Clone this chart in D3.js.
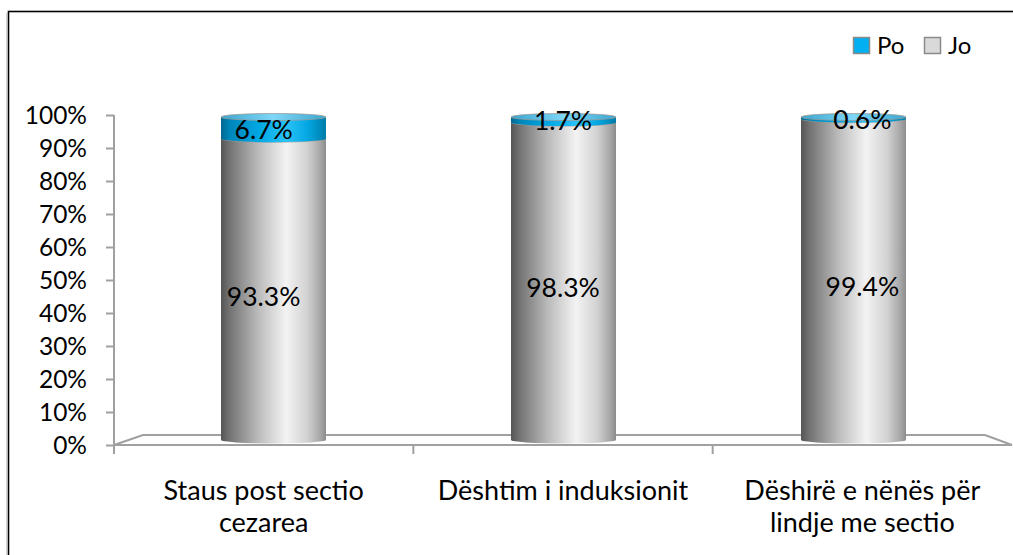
<!DOCTYPE html>
<html>
<head>
<meta charset="utf-8">
<script src="https://cdn.jsdelivr.net/npm/d3@7"></script>
<style>
  html, body { margin: 0; padding: 0; background: #fff; }
  svg { display: block; }
  text { font-family: Lato, "Open Sans", sans-serif; fill: #000; }
</style>
</head>
<body>
<svg id="chart" width="1013" height="555"></svg>
<script>
// Categories (each label split over lines), series shares and axis ticks
const categories = ["Staus post sectio cezarea", "Dështim i induksionit", "Dëshirë e nënës për lindje me sectio"];
const categoryLines = [["Staus post sectio", "cezarea"], ["Dështim i induksionit"], ["Dëshirë e nënës për", "lindje me sectio"]];
const seriesNames = ["Po", "Jo"];
const poValues = [6.7, 1.7, 0.6];
const joValues = [93.3, 98.3, 99.4];
const tickValues = [0, 10, 20, 30, 40, 50, 60, 70, 80, 90, 100];

const svg = d3.select("#chart");
const defs = svg.append("defs");

// Outer frame
svg.append("rect").attr("x", 8.5).attr("y", 11.5).attr("width", 1100).attr("height", 600)
  .attr("fill", "none").attr("stroke", "#000").attr("stroke-width", 1.6);
svg.append("line").attr("x1", 6.5).attr("x2", 6.5).attr("y1", 13).attr("y2", 555)
  .attr("stroke", "#d0d0d0").attr("stroke-width", 1);

// 3D floor projection: depth 0 = front edge, 1 = back edge
const front = { x0: 114, x1: 1012, y: 445 };
const back = { x0: 143, x1: 985, y: 435 };
const depth = 0.5;
const midX0 = front.x0 + (back.x0 - front.x0) * depth;
const midX1 = front.x1 + (back.x1 - front.x1) * depth;

const xFront = d3.scaleBand().domain(categories).range([front.x0, front.x1]).padding(0);
const xMid = d3.scaleBand().domain(categories).range([midX0, midX1]).padding(0);
const barWidth = xMid.bandwidth() * 0.362;

// value scales (percent): axis plane, bar plane, label plane
const yAxis = d3.scaleLinear().domain([0, 100]).range([445, 115]);
const yBar = d3.scaleLinear().domain([0, 100]).range([440, 117]);
const yLabel = d3.scaleLinear().domain([0, 100]).range([452, 118]);

const gridColor = "#a0a0a0";

// floor outline
svg.append("path")
  .attr("d", `M${front.x0},${front.y} L${back.x0},${back.y} L${back.x1},${back.y} L${front.x1},${front.y} Z`)
  .attr("fill", "none").attr("stroke", gridColor).attr("stroke-width", 2);

// value axis
const axisG = svg.append("g").attr("transform", `translate(${front.x0},0)`)
  .call(d3.axisLeft(yAxis).tickValues(tickValues).tickSize(8).tickPadding(19).tickFormat(d => d + "%"));
axisG.select(".domain").attr("d", `M0,${yAxis(100)}V${front.y + 9}`).attr("stroke", gridColor).attr("stroke-width", 2);
axisG.selectAll(".tick line").attr("stroke", gridColor).attr("stroke-width", 2);
axisG.selectAll(".tick text").attr("font-family", "Lato, sans-serif").attr("font-size", 24.5).attr("fill", "#000").attr("dy", "0.36em");

// category ticks along the front edge
svg.append("g").selectAll("line")
  .data(categories.slice(1))
  .join("line")
  .attr("x1", d => xFront(d)).attr("x2", d => xFront(d))
  .attr("y1", front.y).attr("y2", front.y + 9)
  .attr("stroke", gridColor).attr("stroke-width", 2);

// category labels
const catG = svg.append("g");
categories.forEach((c, i) => {
  const cx = xFront(c) + xFront.bandwidth() / 2;
  const t = catG.append("text")
    .attr("x", cx)
    .attr("y", 499.5)
    .attr("text-anchor", "middle")
    .attr("font-size", 27);
  categoryLines[i].forEach((line, j) => {
    t.append("tspan").attr("x", cx).attr("dy", j === 0 ? 0 : 32).text(line);
  });
});

// cylinder shading
function hGradient(id, stops) {
  const g = defs.append("linearGradient").attr("id", id).attr("x1", "0%").attr("x2", "100%").attr("y1", "0%").attr("y2", "0%");
  stops.forEach(s => g.append("stop").attr("offset", s[0]).attr("stop-color", s[1]));
}
hGradient("sideJo", [["0%", "#555"], ["8%", "#727272"], ["35%", "#bababa"], ["62%", "#f3f3f3"], ["82%", "#d2d2d2"], ["95%", "#a5a5a5"], ["100%", "#8c8c8c"]]);
hGradient("sidePo", [["0%", "#00678f"], ["8%", "#0086b8"], ["35%", "#00a6e2"], ["62%", "#29c2f7"], ["82%", "#05a8e4"], ["95%", "#0089bb"], ["100%", "#007aa6"]]);
hGradient("capJo", [["0%", "#9a9a9a"], ["50%", "#dcdcdc"], ["100%", "#a8a8a8"]]);
hGradient("capPo", [["0%", "#3aa7d0"], ["50%", "#7fd6f7"], ["100%", "#3aa7d0"]]);

const ry = 3.5;
const barsG = svg.append("g");

function cylinder(cx, yBottom, yTop, side, cap) {
  const x0 = cx - barWidth / 2, x1 = cx + barWidth / 2, rx = barWidth / 2;
  barsG.append("path")
    .attr("d", `M${x0},${yTop} L${x0},${yBottom} A${rx},${ry} 0 0 0 ${x1},${yBottom} L${x1},${yTop} Z`)
    .attr("fill", `url(#${side})`);
  barsG.append("ellipse")
    .attr("cx", cx).attr("cy", yTop).attr("rx", rx).attr("ry", ry)
    .attr("fill", `url(#${cap})`).attr("stroke", "#9a9a9a").attr("stroke-width", 0.8);
}

categories.forEach((c, i) => {
  const cx = xMid(c) + xMid.bandwidth() / 2;
  const jo = joValues[i], po = poValues[i];
  cylinder(cx, yBar(0), yBar(jo), "sideJo", "capJo");
  cylinder(cx, yBar(jo), yBar(jo + po), "sidePo", "capPo");
});

// data labels at the middle of each segment, placed on the front plane
const labelG = svg.append("g");
categories.forEach((c, i) => {
  const cx = xFront(c) + xFront.bandwidth() / 2;
  const jo = joValues[i], po = poValues[i];
  labelG.append("text").attr("x", cx).attr("y", yLabel(jo / 2)).attr("dy", "0.36em")
    .attr("text-anchor", "middle").attr("font-size", 26.5).text(jo.toFixed(1) + "%");
  labelG.append("text").attr("x", cx).attr("y", yLabel(jo + po / 2)).attr("dy", "0.36em")
    .attr("text-anchor", "middle").attr("font-size", 26.5).text(po.toFixed(1) + "%");
});

// legend
const legendItems = [
  { name: seriesNames[0], fill: "#00b0f0", x: 853 },
  { name: seriesNames[1], fill: "#d9d9d9", x: 924 }
];
const legG = svg.append("g");
legendItems.forEach(d => {
  legG.append("rect").attr("x", d.x + 0.5).attr("y", 37.5).attr("width", 16).attr("height", 16)
    .attr("fill", d.fill).attr("stroke", "#8a8a8a").attr("stroke-width", 1.5);
  legG.append("text").attr("x", d.x + 24).attr("y", 45.5).attr("dy", "0.36em")
    .attr("font-size", 24).text(d.name);
});
</script>
</body>
</html>
